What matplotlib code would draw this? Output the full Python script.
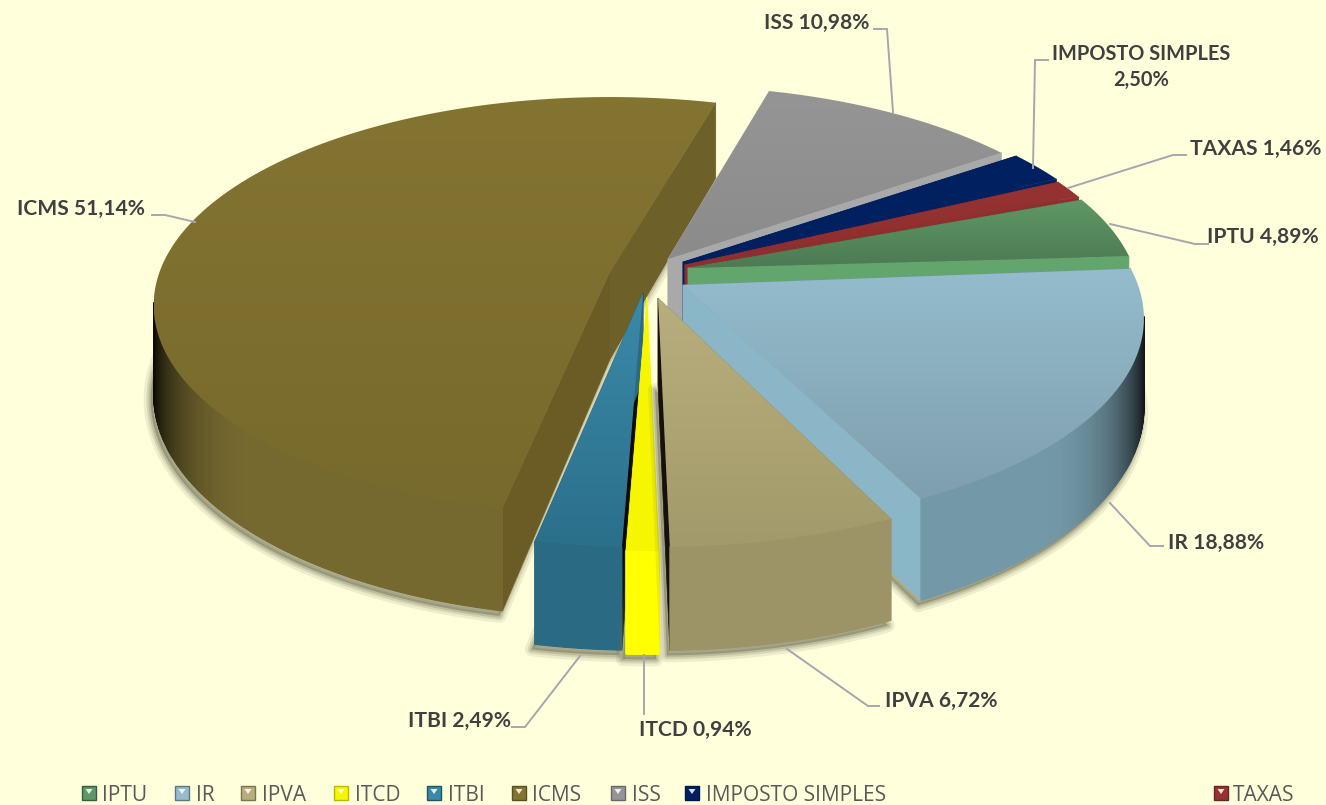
import numpy as np
import matplotlib
matplotlib.use("Agg")
import matplotlib.pyplot as plt
from matplotlib.colors import LinearSegmentedColormap, to_rgb
from matplotlib.patches import Polygon, Rectangle

# Dati
names = ["IPTU", "IR", "IPVA", "ITCD", "ITBI", "ICMS", "ISS", "IMPOSTO SIMPLES", "TAXAS"]
values = [4.89, 18.88, 6.72, 0.94, 2.49, 51.14, 10.98, 2.50, 1.46]

# stile per fetta
top_hi = ["#5f9866", "#94bccd", "#b8ae7d", "#f6f600", "#3b89a8", "#837432", "#959595", "#002060", "#963232"]
top_lo = ["#4d7a53", "#7f9fad", "#a39a6b", "#f6f600", "#2b708b", "#786a2c", "#8b8b8b", "#002060", "#8f2e2e"]
wall = ["#4d7a53", "#7398a7", "#9c9366", "#ffff00", "#2a6a82", "#766930", "#808080", "#002060", "#8f2e2e"]
cut_start = ["#4d7a53", "#7398a7", "#9c9366", "#ffff00", "#080808", "#6a5c24", "#a9a9a9", "#002060", "#8f2e2e"]
cut_end = ["#62a56d", "#8ab6c8", "#17110d", "#ffff00", "#2a6a82", "#6e6029", "#a9a9a9", "#002060", "#8f2e2e"]
apex = [(688, 268), (683, 285), (658, 298), (647, 297), (643, 293), (610, 272), (668, 259), (683, 262), (685, 265)]
radial = [0.98, 1.0, 1.02, 1.04, 1.04, 0.99, 0.98, 0.98, 0.98]
nudge = [0, -1.2, 0, 0, 0, 0.5, 0, 0, 0]
draw_order = [5, 6, 7, 8, 0, 1, 4, 3, 2]

first_angle = 69.0
k = 0.16
R = 455.0
Ry = 205.0
depth = 87.0
bg = "#ffffdc"

def project(i, ang, z=0.0):
    u = np.sin(np.radians(ang))
    v = np.cos(np.radians(ang))
    w = 1 + k * v
    x = apex[i][0] + radial[i] * R * u / w
    y = apex[i][1] - radial[i] * Ry * v / w + z * depth / w
    return x, y

def shade(col, f):
    return tuple(c * f for c in to_rgb(col))

fig = plt.figure(figsize=(13.26, 8.05), dpi=100, facecolor=bg)
ax = fig.add_axes([0, 0, 1, 1])
ax.set_axis_off()

starts = first_angle + np.concatenate([[0], np.cumsum(values)[:-1]]) * 3.6
z = 2
for i in draw_order:
    a0 = starts[i] + nudge[i]
    a1 = a0 + values[i] * 3.6
    ang = np.linspace(a0, a1, max(int(values[i] * 8), 8))
    tx, ty = project(i, ang)
    bx, by = project(i, ang, 1.0)
    cx, cy = apex[i]
    cbx, cby = cx, cy + depth

    # ombra solo sotto
    sil = np.vstack([[cbx, cby], np.c_[bx, by]])
    for lw, al in [(10, 0.12), (6, 0.18), (3, 0.25)]:
        ax.add_patch(Polygon(sil + [-3, 5], closed=True, fc="#6f6f55", ec="#6f6f55",
                             lw=lw, alpha=al, zorder=z, joinstyle="round"))
    z += 1

    # pareti di taglio
    for col, e in [(cut_start[i], 0), (cut_end[i], -1)]:
        q = [(cx, cy), (tx[e], ty[e]), (bx[e], by[e]), (cbx, cby)]
        ax.add_patch(Polygon(q, closed=True, fc=col, ec=col, lw=0.5, zorder=z))
        z += 1

    # parete esterna a strisce, scura verso i lati (dietro non si vede)
    for j in range(len(ang) - 1):
        n = -np.cos(np.radians((ang[j] + ang[j + 1]) / 2))
        if n < 0.15:
            continue
        t = np.clip((n - 0.12) / 0.6, 0, 1)
        f = 0.1 + 0.9 * t * t * (3 - 2 * t)
        q = [(tx[j], ty[j]), (tx[j + 1], ty[j + 1]), (bx[j + 1], by[j + 1]), (bx[j], by[j])]
        c = shade(wall[i], f)
        ax.add_patch(Polygon(q, closed=True, fc=c, ec=c, lw=0.8, zorder=z))
    z += 1

    # faccia superiore con sfumatura verticale
    poly = np.vstack([[cx, cy], np.c_[tx, ty]])
    cmap = LinearSegmentedColormap.from_list("s", [top_hi[i], top_lo[i]])
    grad = np.linspace(0, 1, 64).reshape(-1, 1)
    im = ax.imshow(grad, cmap=cmap, aspect="auto", zorder=z, interpolation="bilinear",
                   extent=[poly[:, 0].min(), poly[:, 0].max(), poly[:, 1].max(), poly[:, 1].min()],
                   origin="upper")
    clip = Polygon(poly, closed=True, transform=ax.transData, fc="none", ec="none")
    ax.add_patch(clip)
    im.set_clip_path(clip)
    z += 1

ax.set_xlim(0, 1326)
ax.set_ylim(805, 0)

# etichette e linee guida
label_font = dict(family=["Lato", "DejaVu Sans"], fontweight="bold", color="#404040")
label_pos = [(1263, 237), (1216, 543), (941, 701), (695, 730), (459, 721), (81, 209), (817, 23), (1141, 67), (1256, 149)]
leaders = [
    [(1110, 224), (1195, 244), (1208, 244)],
    [(1110, 503), (1150, 546), (1163, 546)],
    [(787, 649), (868, 706), (879, 706)],
    [(644, 655), (644, 714)],
    [(580, 656), (525, 727), (512, 727)],
    [(195, 222), (165, 215), (152, 215)],
    [(893, 112), (887, 29), (874, 29)],
    [(1033, 168), (1035, 60), (1048, 60)],
    [(1068, 188), (1173, 155), (1186, 155)],
]
for i, n in enumerate(names):
    txt = f"{values[i]:.2f}%".replace(".", ",")
    if n == "IMPOSTO SIMPLES":
        txt = f"{n}\n{txt}"
        size = 14.4
    else:
        txt = f"{n} {txt}"
        size = 15.1
    ax.text(label_pos[i][0], label_pos[i][1], txt, ha="center", va="center", zorder=500,
            linespacing=1.35, fontsize=size, **label_font)
    lx, ly = zip(*leaders[i])
    ax.plot(lx, ly, color="#a6a6ae", lw=1.4, zorder=499, solid_joinstyle="miter")

# legenda
leg_swatch = [82, 175, 241, 334, 427, 512, 611, 685, 1214]
leg_text = [102, 196, 262, 355, 448, 532, 632, 706, 1233]
for i, n in enumerate(names):
    x0 = leg_swatch[i]
    ax.add_patch(Rectangle((x0, 786), 14, 14, fc=top_hi[i], ec=shade(top_lo[i], 0.75), lw=1, zorder=500))
    ax.add_patch(Polygon([(x0 + 3.5, 789), (x0 + 10.5, 789), (x0 + 7, 794)], closed=True,
                         fc="white", ec="none", alpha=0.85, zorder=501))
    ax.text(leg_text[i], 795, n, ha="left", va="center", fontsize=15, color="#595959",
            family="Open Sans", zorder=500)

fig.savefig("out.png", dpi=100, facecolor=bg)
